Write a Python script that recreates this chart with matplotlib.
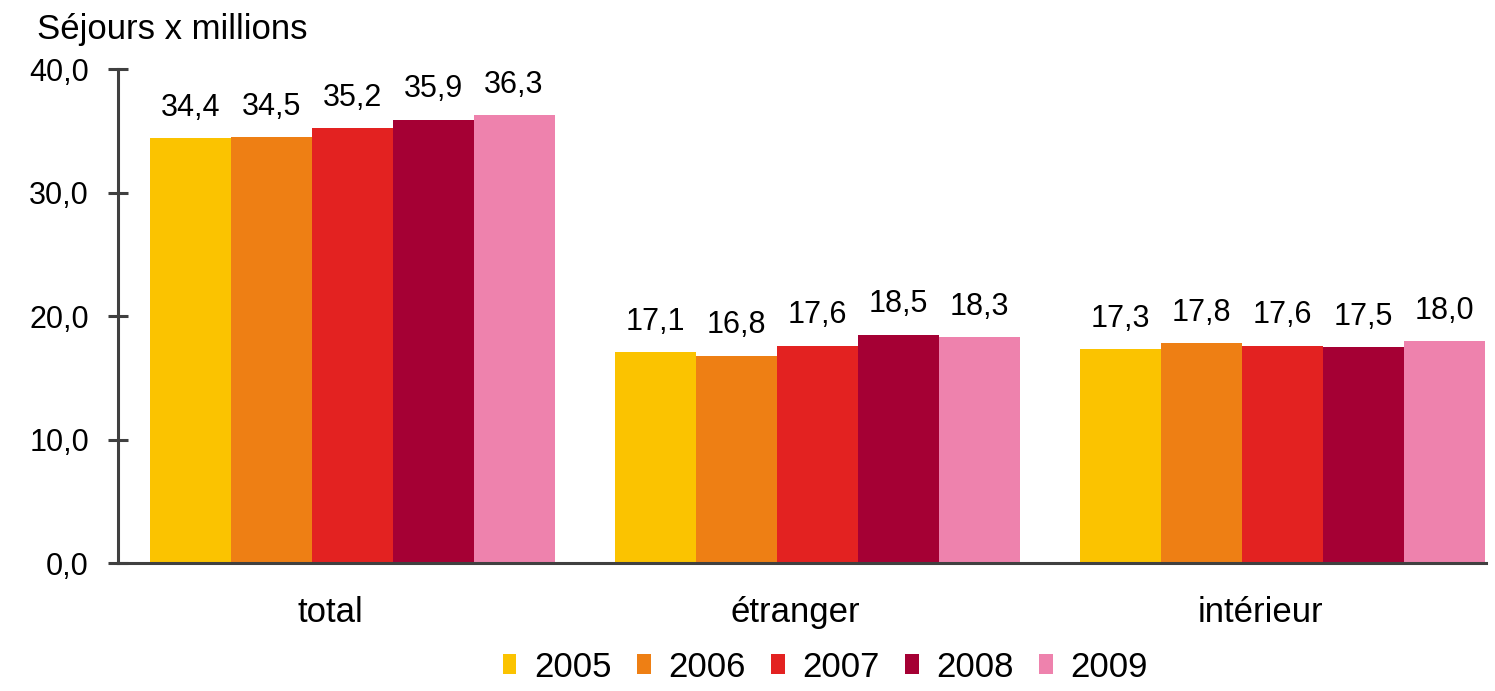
import numpy as np
import matplotlib.pyplot as plt
import matplotlib.transforms as mtransforms

plt.rcParams['font.family'] = ['Liberation Sans', 'DejaVu Sans']

categories = ['total', 'étranger', 'intérieur']
years = ['2005', '2006', '2007', '2008', '2009']
values = [
    [34.4, 17.1, 17.3],
    [34.5, 16.8, 17.8],
    [35.2, 17.6, 17.6],
    [35.9, 18.5, 17.5],
    [36.3, 18.3, 18.0],
]
yticks = [0, 10, 20, 30, 40]
colors = ['#FBC300', '#EE7F14', '#E32221', '#A50034', '#EE82AD']


def fmt(v):
    return ('%.1f' % v).replace('.', ',')


fig = plt.figure(figsize=(14.95, 6.91), dpi=100)
ax = fig.add_axes([0.079, 0.185, 0.915, 0.715])

x = np.arange(len(categories))
w = 0.174
for i, yr in enumerate(years):
    pos = x + (i - 2) * w
    bars = ax.bar(pos, values[i], width=w, color=colors[i], label=yr)
    for b, v in zip(bars, values[i]):
        ax.annotate(fmt(v), (b.get_x() + b.get_width() / 2, v),
                    xytext=(0, 11), textcoords='offset points',
                    ha='center', va='bottom', fontsize=22)

ax.set_xlim(-0.503, 2.437)
ax.set_ylim(0, 40)
ax.set_yticks(yticks)
ax.set_yticklabels([fmt(t) for t in yticks], fontsize=22)
ax.set_xticks(x)
ax.set_xticklabels(categories, fontsize=25)
ax.tick_params(axis='x', length=0, pad=24)
ax.tick_params(axis='y', direction='inout', length=14, width=2.2, color='#404040', pad=14)

# category labels sit a bit left of the group centres in the original
shift = mtransforms.ScaledTranslation(-22 / 100, 0, fig.dpi_scale_trans)
for lbl in ax.get_xticklabels():
    lbl.set_transform(lbl.get_transform() + shift)

for s in ['top', 'right']:
    ax.spines[s].set_visible(False)
for s in ['left', 'bottom']:
    ax.spines[s].set_color('#404040')
    ax.spines[s].set_linewidth(2.2)

fig.text(0.025, 0.958, 'Séjours x millions', fontsize=25, va='center', ha='left')

ax.legend(loc='upper center', bbox_to_anchor=(0.517, -0.128), ncol=5, frameon=False,
          fontsize=25, handlelength=0.38, handleheight=0.5, handletextpad=0.5,
          columnspacing=0.75, borderpad=0.2)

fig.savefig('out.png', dpi=100)
